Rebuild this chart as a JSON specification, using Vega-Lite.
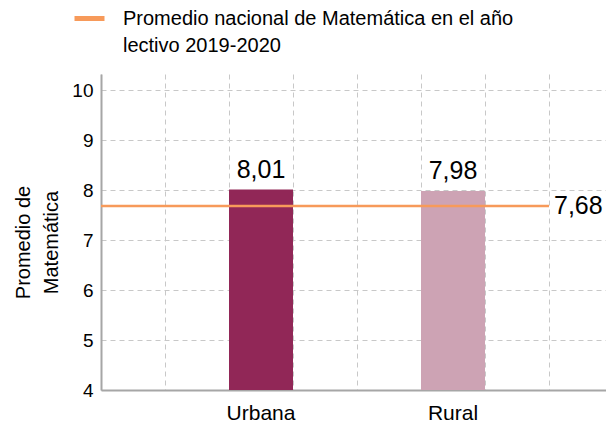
{
  "$schema": "https://vega.github.io/schema/vega-lite/v6.json",
  "autosize": {"type": "none"},
  "width": 505,
  "height": 316,
  "padding": {"left": 101, "top": 74, "right": 0, "bottom": 36},
  "background": "white",
  "config": {
    "view": {"stroke": null},
    "font": "Liberation Sans",
    "locale": {"number": {"decimal": ",", "thousands": ".", "grouping": [3], "currency": ["", ""]}},
    "axis": {
      "domainColor": "#a6a6a6",
      "domainWidth": 2,
      "gridColor": "#c8c8c8",
      "gridDash": [5, 4],
      "gridWidth": 1,
      "ticks": false,
      "labelColor": "#000000",
      "labelFont": "Liberation Sans",
      "titleFont": "Liberation Sans",
      "titleColor": "#000000",
      "titleFontWeight": "normal"
    }
  },
  "datasets": {
    "zonas": [
      {"zona": "Urbana", "promedio": 8.01},
      {"zona": "Rural", "promedio": 7.98}
    ],
    "nacional": [
      {"serie": "Promedio nacional de Matemática en el año lectivo 2019-2020", "promedio": 7.68}
    ]
  },
  "layer": [
    {
      "data": {"name": "zonas"},
      "mark": {"type": "bar"},
      "encoding": {
        "x": {
          "field": "zona",
          "type": "nominal",
          "scale": {"domain": ["a", "b", "Urbana", "c", "d", "Rural", "e", "f"], "range": [0, 512], "paddingInner": 0, "paddingOuter": 0},
          "axis": {
            "title": null,
            "bandPosition": 0,
            "grid": true,
            "labelAngle": 0,
            "labelFontSize": 21,
            "labelColor": "#000000",
            "labelPadding": 12,
            "labelExpr": "datum.value == 'Urbana' || datum.value == 'Rural' ? datum.value : ''"
          }
        },
        "y": {
          "field": "promedio",
          "type": "quantitative",
          "scale": {"domain": [4, 10.32], "nice": false, "zero": false},
          "axis": {
            "values": [4, 5, 6, 7, 8, 9, 10],
            "grid": true,
            "labelFontSize": 19,
            "labelColor": "#000000",
            "labelPadding": 8,
            "title": ["Promedio de", "Matemática"],
            "titleFontSize": 20,
            "titleLineHeight": 28,
            "titleBaseline": "alphabetic",
            "titleAlign": "center",
            "titleAngle": -90,
            "titleX": -72,
            "titleY": 168
          }
        },
        "y2": {"datum": 4},
        "fill": {
          "field": "zona",
          "type": "nominal",
          "scale": {"domain": ["Urbana", "Rural"], "range": ["#912757", "#cda3b4"]},
          "legend": null
        }
      }
    },
    {
      "data": {"name": "zonas"},
      "mark": {"type": "text", "fontSize": 25, "baseline": "alphabetic", "dy": -12, "color": "#000000"},
      "encoding": {
        "x": {"field": "zona", "type": "nominal"},
        "y": {"field": "promedio", "type": "quantitative"},
        "text": {"field": "promedio", "type": "quantitative", "format": ".2f"}
      }
    },
    {
      "data": {"name": "nacional"},
      "mark": {"type": "rule", "strokeWidth": 2.5},
      "encoding": {
        "x": {"datum": "a", "bandPosition": 0},
        "x2": {"datum": "f", "bandPosition": 0},
        "y": {"field": "promedio", "type": "quantitative"},
        "stroke": {
          "field": "serie",
          "type": "nominal",
          "scale": {"range": ["#f79a5a"]},
          "legend": {
            "title": null,
            "orient": "none",
            "legendX": -29,
            "legendY": -73,
            "padding": 0,
            "symbolType": "stroke",
            "symbolSize": 900,
            "symbolStrokeWidth": 5,
            "labelFontSize": 20,
            "labelFont": "Liberation Sans",
            "labelColor": "#000000",
            "labelLimit": 700,
            "labelOffset": 16,
            "labelBaseline": "middle",
            "labelExpr": "['Promedio nacional de Matemática en el año', 'lectivo 2019-2020']",
            "encode": {"labels": {"update": {"lineHeight": {"value": 27}}}}
          }
        }
      }
    },
    {
      "data": {"name": "nacional"},
      "mark": {"type": "text", "fontSize": 25, "baseline": "alphabetic", "align": "left", "dx": 5, "dy": 8, "color": "#000000"},
      "encoding": {
        "x": {"datum": "f", "bandPosition": 0},
        "y": {"field": "promedio", "type": "quantitative"},
        "text": {"field": "promedio", "type": "quantitative", "format": ".2f"}
      }
    }
  ]
}
